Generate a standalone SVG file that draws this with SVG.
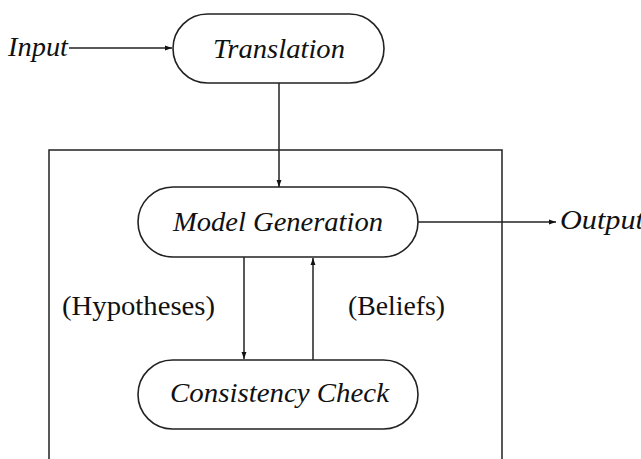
<svg xmlns="http://www.w3.org/2000/svg" width="641" height="459" viewBox="0 0 641 459">
<style>
.node{fill:#fff;stroke:#222;stroke-width:1.6}
.ln{fill:none;stroke:#222;stroke-width:1.5}
.it{font-family:"Liberation Serif","DejaVu Serif",serif;font-style:italic;font-size:28px;fill:#111}
.rm{font-family:"Liberation Serif","DejaVu Serif",serif;font-size:28px;fill:#111}
</style>
<defs>
<marker id="ah" viewBox="0 0 10 10" refX="10" refY="5" markerWidth="7" markerHeight="7" markerUnits="userSpaceOnUse" orient="auto">
<path d="M0,1.5 L10,5 L0,8.5 z" fill="#111"/>
</marker>
</defs>
<rect width="641" height="459" fill="#fff"/>
<g id="connectors">
<path class="ln" d="M69,48 H172" marker-end="url(#ah)"/>
<path class="ln" d="M279,83 V187" marker-end="url(#ah)"/>
<path class="ln" d="M418,222 H556" marker-end="url(#ah)"/>
<path class="ln" d="M244,257 V359" marker-end="url(#ah)"/>
<path class="ln" d="M313,360 V258" marker-end="url(#ah)"/>
</g>
<g id="outer-box">
<path class="ln" d="M49,459 V150 H502 V459"/>
</g>
<g id="input"><text class="it" x="8" y="56" textLength="60" lengthAdjust="spacingAndGlyphs">Input</text></g>
<g id="translation">
<rect class="node" x="173" y="14" width="211" height="69" rx="34.5"/>
<text class="it" x="213" y="58" textLength="132" lengthAdjust="spacingAndGlyphs">Translation</text>
</g>
<g id="model-generation">
<rect class="node" x="138" y="187" width="280" height="70" rx="35"/>
<text class="it" x="173" y="231" textLength="210" lengthAdjust="spacingAndGlyphs">Model Generation</text>
</g>
<g id="output"><text class="it" x="560" y="229" textLength="84" lengthAdjust="spacingAndGlyphs">Output</text></g>
<g id="hypotheses"><text class="rm" x="62" y="315" textLength="153" lengthAdjust="spacingAndGlyphs">(Hypotheses)</text></g>
<g id="beliefs"><text class="rm" x="348" y="315" textLength="97" lengthAdjust="spacingAndGlyphs">(Beliefs)</text></g>
<g id="consistency-check">
<rect class="node" x="138" y="360" width="280" height="69" rx="34.5"/>
<text class="it" x="170" y="402" textLength="219" lengthAdjust="spacingAndGlyphs">Consistency Check</text>
</g>
</svg>
